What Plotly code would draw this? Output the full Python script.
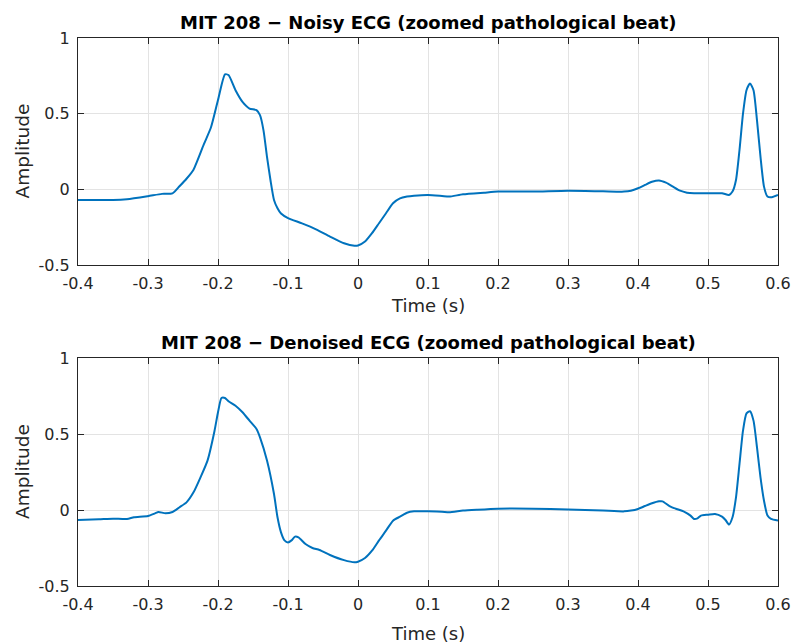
import plotly.graph_objects as go

# Noisy ECG (top)
t_noisy = [-0.4, -0.35, -0.33, -0.3, -0.28, -0.265, -0.255, -0.245, -0.235, -0.22, -0.21, -0.2,
           -0.19, -0.185, -0.175, -0.165, -0.155, -0.145, -0.14, -0.135, -0.13, -0.125, -0.12,
           -0.115, -0.11, -0.1, -0.08, -0.06, -0.04, -0.02, -0.005, 0.0, 0.01, 0.02, 0.03, 0.04,
           0.05, 0.06, 0.07, 0.08, 0.1, 0.12, 0.13, 0.15, 0.18, 0.2, 0.25, 0.3, 0.35, 0.38, 0.39,
           0.4, 0.41, 0.42, 0.43, 0.44, 0.45, 0.46, 0.47, 0.48, 0.5, 0.52, 0.53, 0.535, 0.54,
           0.545, 0.55, 0.555, 0.56, 0.565, 0.57, 0.575, 0.58, 0.585, 0.59, 0.6]
a_noisy = [-0.07, -0.07, -0.065, -0.045, -0.03, -0.027, 0.02, 0.07, 0.13, 0.30, 0.41, 0.59,
           0.76, 0.755, 0.655, 0.578, 0.534, 0.523, 0.49, 0.39, 0.215, 0.06, -0.07,
           -0.125, -0.16, -0.19, -0.225, -0.264, -0.312, -0.356, -0.373, -0.371, -0.345, -0.29,
           -0.224, -0.158, -0.092, -0.06, -0.048, -0.042, -0.037, -0.044, -0.048, -0.033, -0.022,
           -0.015, -0.015, -0.009, -0.013, -0.015, -0.009, 0.007, 0.029, 0.05, 0.059, 0.044,
           0.018, -0.009, -0.022, -0.026, -0.026, -0.026, -0.037, -0.015, 0.062, 0.26, 0.50,
           0.655, 0.70, 0.655, 0.456, 0.215, 0.018, -0.048, -0.053, -0.037]

# Denoised ECG (bottom)
t_den = [-0.4, -0.37, -0.35, -0.33, -0.32, -0.3, -0.29, -0.285, -0.275, -0.265, -0.255, -0.245,
         -0.235, -0.225, -0.215, -0.205, -0.2, -0.195, -0.19, -0.185, -0.175, -0.165, -0.155,
         -0.145, -0.14, -0.13, -0.12, -0.115, -0.11, -0.105, -0.1, -0.095, -0.09, -0.085, -0.075,
         -0.065, -0.055, -0.04, -0.02, -0.005, 0.0, 0.01, 0.02, 0.03, 0.04, 0.05, 0.06, 0.065,
         0.07, 0.08, 0.1, 0.12, 0.13, 0.15, 0.17, 0.2, 0.25, 0.3, 0.35, 0.38, 0.39, 0.4, 0.41,
         0.42, 0.43, 0.435, 0.445, 0.455, 0.465, 0.475, 0.48, 0.485, 0.49, 0.5, 0.51, 0.52,
         0.525, 0.53, 0.535, 0.54, 0.545, 0.55, 0.555, 0.56, 0.565, 0.57, 0.575, 0.58, 0.585,
         0.59, 0.6]
a_den = [-0.066, -0.061, -0.057, -0.059, -0.048, -0.039, -0.022, -0.013, -0.022, -0.013, 0.018,
         0.05, 0.116, 0.215, 0.325, 0.52, 0.643, 0.737, 0.737, 0.715, 0.686, 0.643, 0.588,
         0.533, 0.478, 0.325, 0.105, -0.048, -0.147, -0.2, -0.213, -0.2, -0.175, -0.18, -0.224,
         -0.25, -0.263, -0.296, -0.33, -0.344, -0.34, -0.316, -0.268, -0.2, -0.136, -0.07,
         -0.044, -0.031, -0.018, -0.009, -0.009, -0.011, -0.015, -0.004, 0.002, 0.009, 0.009,
         0.004, -0.004, -0.009, -0.004, 0.007, 0.026, 0.044, 0.057, 0.057, 0.026, 0.007,
         -0.009, -0.037, -0.059, -0.055, -0.037, -0.031, -0.026, -0.044, -0.066, -0.096,
         -0.048, 0.083, 0.303, 0.522, 0.636, 0.65, 0.588, 0.412, 0.215, 0.061, -0.037, -0.059,
         -0.07]

x_ticks = [-0.4, -0.3, -0.2, -0.1, 0, 0.1, 0.2, 0.3, 0.4, 0.5, 0.6]
x_ticklabels = ["-0.4", "-0.3", "-0.2", "-0.1", "0", "0.1", "0.2", "0.3", "0.4", "0.5", "0.6"]
y_ticks = [-0.5, 0, 0.5, 1]
y_ticklabels = ["-0.5", "0", "0.5", "1"]
titles = ["MIT 208 \u2212 Noisy ECG (zoomed pathological beat)",
          "MIT 208 \u2212 Denoised ECG (zoomed pathological beat)"]

W, H = 793, 644
LINE = "#0072BD"
AX = "#262626"
GRID = "#e3e3e3"
FONT = "DejaVu Sans, Liberation Sans, Arial, sans-serif"

fig = go.Figure()
fig.add_trace(go.Scatter(x=t_noisy, y=a_noisy, mode="lines", line=dict(color=LINE, width=2, shape="spline", smoothing=0.6),
                         xaxis="x", yaxis="y", showlegend=False))
fig.add_trace(go.Scatter(x=t_den, y=a_den, mode="lines", line=dict(color=LINE, width=2, shape="spline", smoothing=0.6),
                         xaxis="x2", yaxis="y2", showlegend=False))

xl, xr = 78 / W, 778 / W
top = (38, 265)
bot = (358, 586)

def xaxis(anchor):
    return dict(domain=[xl, xr], range=[-0.4, 0.6], tickvals=x_ticks, ticktext=x_ticklabels,
                ticks="inside", ticklen=6, tickcolor=AX, showline=True, linecolor=AX, linewidth=1,
                mirror="ticks", showgrid=True, gridcolor=GRID, zeroline=False, anchor=anchor,
                tickfont=dict(family=FONT, size=16, color=AX), fixedrange=True, ticklabelstandoff=4,
                automargin=False)

def yaxis(anchor, dom):
    return dict(domain=[(H - dom[1]) / H, (H - dom[0]) / H], range=[-0.5, 1], tickvals=y_ticks,
                ticktext=y_ticklabels, ticks="inside", ticklen=6, tickcolor=AX, showline=True,
                linecolor=AX, linewidth=1, mirror="ticks", showgrid=True, gridcolor=GRID,
                zeroline=False, anchor=anchor, tickfont=dict(family=FONT, size=16, color=AX),
                fixedrange=True, ticklabelstandoff=4, automargin=False)

annotations = []
cx = (78 + 778) / 2 / W
for dom, ttl, ty, ly in [(top, titles[0], 22, 306), (bot, titles[1], 343, 633)]:
    annotations.append(dict(text="<b>" + ttl + "</b>", x=cx, y=(H - ty) / H, xref="paper", yref="paper",
                            xanchor="center", yanchor="middle", showarrow=False,
                            font=dict(family=FONT, size=18, color="#000000")))
    annotations.append(dict(text="Time (s)", x=cx, y=(H - ly) / H, xref="paper", yref="paper",
                            xanchor="center", yanchor="middle", showarrow=False,
                            font=dict(family=FONT, size=18, color=AX)))
    annotations.append(dict(text="Amplitude", x=22 / W, y=(H - (dom[0] + dom[1]) / 2) / H, xref="paper", yref="paper",
                            xanchor="center", yanchor="middle", showarrow=False, textangle=-90,
                            font=dict(family=FONT, size=18.5, color=AX)))

fig.update_layout(
    template="none",
    width=W, height=H, margin=dict(l=0, r=0, t=0, b=0, autoexpand=False),
    paper_bgcolor="white", plot_bgcolor="white",
    xaxis=xaxis("y"), yaxis=yaxis("x", top),
    xaxis2=xaxis("y2"), yaxis2=yaxis("x2", bot),
    annotations=annotations,
)

fig.write_html("out.html")
